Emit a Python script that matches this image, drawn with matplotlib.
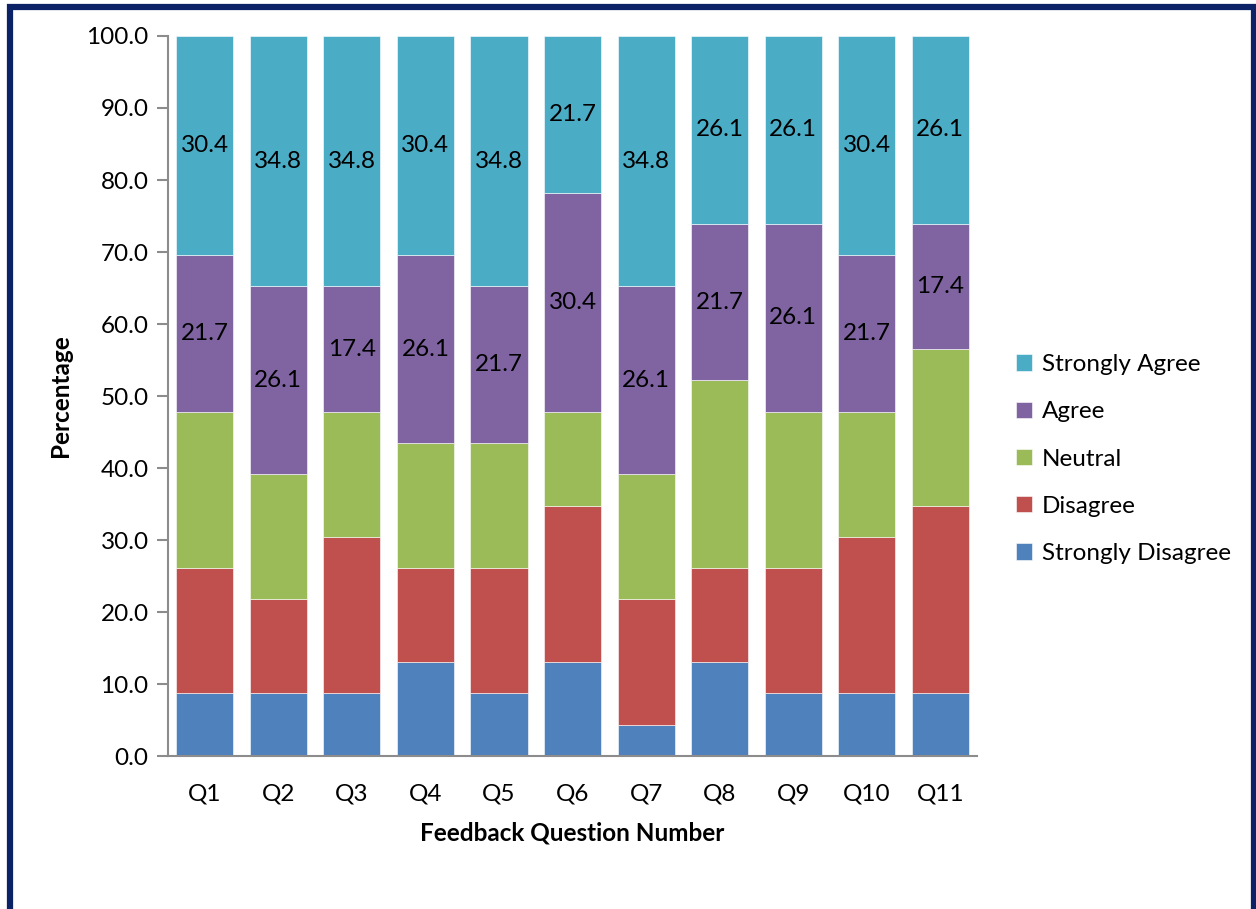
import matplotlib
matplotlib.use('Agg')
import matplotlib.pyplot as plt
from matplotlib.patches import Rectangle
import numpy as np

plt.rcParams['font.family'] = ['Lato', 'DejaVu Sans']

questions = ['Q1', 'Q2', 'Q3', 'Q4', 'Q5', 'Q6', 'Q7', 'Q8', 'Q9', 'Q10', 'Q11']
strongly_disagree = [8.70, 8.70, 8.70, 13.04, 8.70, 13.04, 4.35, 13.04, 8.70, 8.70, 8.70]
disagree = [17.39, 13.04, 21.74, 13.04, 17.39, 21.74, 17.39, 13.04, 17.39, 21.74, 26.09]
neutral = [21.74, 17.39, 17.39, 17.39, 17.39, 13.04, 17.39, 26.09, 21.74, 17.39, 21.74]
agree = [21.74, 26.09, 17.39, 26.09, 21.74, 30.43, 26.09, 21.74, 26.09, 21.74, 17.39]
strongly_agree = [30.43, 34.78, 34.78, 30.43, 34.78, 21.74, 34.78, 26.09, 26.09, 30.43, 26.09]

series = [
    ('Strongly Disagree', strongly_disagree, '#4F81BD', False),
    ('Disagree', disagree, '#C0504D', False),
    ('Neutral', neutral, '#9BBB59', False),
    ('Agree', agree, '#8064A2', True),
    ('Strongly Agree', strongly_agree, '#4BACC6', True),
]

fig = plt.figure(figsize=(12.56, 9.09), dpi=100)
ax = fig.add_axes([0.1338, 0.1683, 0.6441, 0.7921])

x = np.arange(len(questions))
bottom = np.zeros(len(questions))
handles = []
for name, vals, color, show in series:
    vals = np.array(vals)
    bars = ax.bar(x, vals, 0.776, bottom=bottom, color=color,
                  edgecolor='white', linewidth=0.4, label=name)
    if show:
        for xi, b, v in zip(x, bottom, vals):
            ax.text(xi, b + v / 2, f'{v:.1f}', ha='center', va='center',
                    fontsize=17.5, color='black')
    handles.append(bars)
    bottom = bottom + vals

ax.set_xlim(-0.5, len(questions) - 0.5)
ax.set_ylim(0, 100)
ax.set_yticks(np.arange(0, 101, 10))
ax.set_yticklabels([f'{t:.1f}' for t in np.arange(0, 101, 10)])
ax.set_xticks(x)
ax.set_xticklabels(questions)
ax.tick_params(axis='x', length=0, labelsize=17.5, pad=20)
ax.tick_params(axis='y', length=8, width=1.5, color='#8C8C8C',
               labelsize=17.5, pad=6)
for s in ['top', 'right']:
    ax.spines[s].set_visible(False)
for s in ['left', 'bottom']:
    ax.spines[s].set_color('#8C8C8C')
    ax.spines[s].set_linewidth(1.5)

ax.set_ylabel('Percentage', fontsize=17.5, fontweight='bold', labelpad=10)
ax.set_xlabel('Feedback Question Number', fontsize=17.5, fontweight='bold',
              labelpad=12)

leg = fig.legend(handles[::-1], [s[0] for s in series][::-1],
                 loc='center left', bbox_to_anchor=(0.7915, 0.495),
                 frameon=False, fontsize=17.5, handlelength=0.65,
                 handleheight=0.65, handletextpad=0.4, labelspacing=1.08)

fig.patches.append(Rectangle((9.5 / 1256, -0.05), 1244 / 1256, 1.0 - 6.5 / 909 + 0.05,
                             transform=fig.transFigure, fill=False,
                             edgecolor='#0B2366', linewidth=4.5))

fig.savefig('out.png', dpi=100)
